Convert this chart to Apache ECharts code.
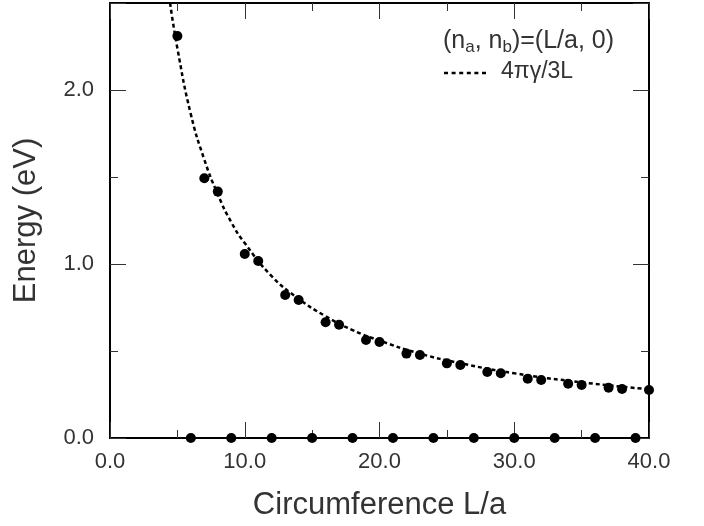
<!DOCTYPE html>
<html><head><meta charset="utf-8">
<script src="https://cdn.jsdelivr.net/npm/echarts@6/dist/echarts.min.js"></script>
<style>html,body{margin:0;padding:0;background:#fff}#c{width:704px;height:526px}</style>
</head><body><div id="c"></div>
<script>
// metallic tubes (zero gap)
const zeroL = [6, 9, 12, 15, 18, 21, 24, 27, 30, 33, 36, 39];
const zeroE = [0, 0, 0, 0, 0, 0, 0, 0, 0, 0, 0, 0];
// semiconducting tubes
const gapL = [5, 7, 8, 10, 11, 13, 14, 16, 17, 19, 20, 22, 23, 25, 26, 28, 29, 31, 32, 34, 35, 37, 38, 40];
const gapE = [2.31, 1.493, 1.416, 1.057, 1.017, 0.822, 0.793, 0.665, 0.651, 0.563, 0.552, 0.485, 0.477, 0.429, 0.420, 0.379, 0.372, 0.341, 0.333, 0.312, 0.305, 0.289, 0.282, 0.276];
// dashed curve 4πγ/3L
const curveL = [4.46, 5, 6, 7, 8, 9, 10, 12, 14, 16, 18, 20, 23, 26, 30, 35, 40];
const curveE = [2.5, 2.24, 1.86, 1.60, 1.40, 1.24, 1.12, 0.93, 0.80, 0.70, 0.62, 0.56, 0.485, 0.43, 0.372, 0.32, 0.28];
const xTicks = [0, 10, 20, 30, 40];
const yTicks = [0, 1, 2];

const pair = (a, b) => a.map((v, i) => [v, b[i]]);
const font = 'Liberation Sans, Arial, sans-serif';
const chart = echarts.init(document.getElementById('c'));
const tickBase = () => ({
  axisLine: {show: true, onZero: false, lineStyle: {color: '#000', width: 2}},
  axisTick: {show: true, inside: true, length: 16, lineStyle: {color: '#333', width: 1}},
  minorTick: {show: true, splitNumber: 2, length: 8, lineStyle: {color: '#333', width: 1}},
  splitLine: {show: false}
});
chart.setOption({
  animation: false,
  grid: {left: 110, right: 55, top: 3, bottom: 88},
  xAxis: [
    Object.assign({type: 'value', min: 0, max: 40, interval: 10, position: 'bottom',
      name: 'Circumference L/a', nameLocation: 'middle', nameGap: 52,
      nameTextStyle: {fontFamily: font, fontSize: 31, color: '#333'},
      axisLabel: {fontFamily: font, fontSize: 22, color: '#333', margin: 13,
        formatter: v => xTicks.includes(v) ? v.toFixed(1) : ''}}, tickBase()),
    Object.assign({type: 'value', min: 0, max: 40, interval: 10, position: 'top',
      axisLabel: {show: false}}, tickBase())
  ],
  yAxis: [
    Object.assign({type: 'value', min: 0, max: 2.5, interval: 1, position: 'left',
      name: 'Energy (eV)', nameLocation: 'middle', nameGap: 68,
      nameTextStyle: {fontFamily: font, fontSize: 31, color: '#333'},
      axisLabel: {fontFamily: font, fontSize: 22, color: '#333', margin: 16,
        formatter: v => yTicks.includes(v) ? v.toFixed(1) : ''}}, tickBase()),
    Object.assign({type: 'value', min: 0, max: 2.5, interval: 1, position: 'right',
      axisLabel: {show: false}}, tickBase())
  ],
  series: [
    {type: 'line', data: pair(curveL, curveE), smooth: true, showSymbol: false, symbol: 'none',
      lineStyle: {color: '#000', width: 2.5, type: [4, 3]}, z: 2},
    {type: 'scatter', data: pair(gapL, gapE), symbolSize: 10, itemStyle: {color: '#000', opacity: 1}, z: 3},
    {type: 'scatter', data: pair(zeroL, zeroE), symbolSize: 10, itemStyle: {color: '#000', opacity: 1}, z: 3, clip: false}
  ],
  graphic: [
    {type: 'text', left: 443, top: 27, style: {
      text: '{t|(n}{s|a}{t|, n}{s|b}{t|)=(L/a, 0)}', fontFamily: font,
      rich: {t: {fontSize: 25, fill: '#333', fontFamily: font, lineHeight: 30},
             s: {fontSize: 17, fill: '#333', fontFamily: font, lineHeight: 30, padding: [12, 0, 0, 0]}}}},
    {type: 'line', shape: {x1: 444, y1: 73, x2: 489, y2: 73},
      style: {stroke: '#000', lineWidth: 2.5, lineDash: [4, 3.6]}},
    {type: 'text', left: 501, top: 60, style: {text: '4πγ/3L', fontFamily: font, fontSize: 23, fill: '#333'}}
  ]
});
</script></body></html>
